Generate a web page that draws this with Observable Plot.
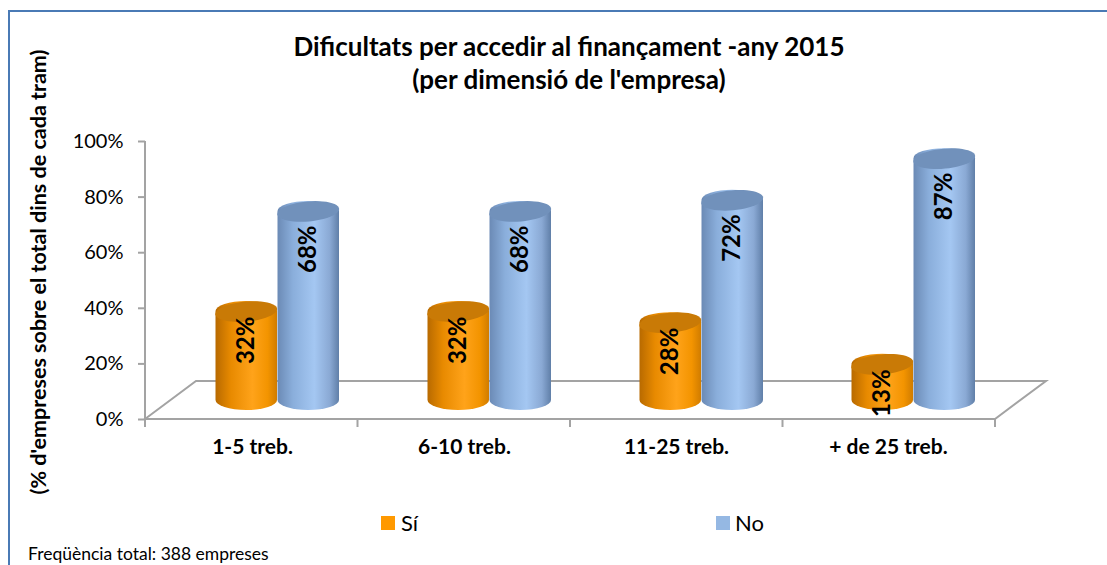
<!DOCTYPE html>
<html><head><meta charset="utf-8">
<script src="https://cdn.jsdelivr.net/npm/d3@7"></script>
<script src="https://cdn.jsdelivr.net/npm/@observablehq/plot@0.6"></script>
<style>
body{margin:0;background:#fff;font-family:Lato,"Open Sans",sans-serif;}
#wrap{position:relative;width:1107px;height:565px;overflow:hidden;background:#fff}
#border{position:absolute;left:8px;top:10px;width:1200px;height:700px;border-top:2px solid #4a7ab5;border-left:2px solid #4a7ab5}
.t{position:absolute;white-space:nowrap;color:#000}
#title{left:0;width:1138px;top:30px;text-align:center;font-weight:bold;font-size:26px;line-height:33px}
#ylab{left:38px;top:272px;transform:translate(-50%,-50%) rotate(-90deg);font-weight:bold;font-size:21.5px}
.sw{position:absolute;width:14px;height:14px}
.lg{font-size:22px;line-height:22px;top:512px}
#cap{left:28px;top:544px;font-size:17.5px;line-height:19px}
</style></head><body>
<div id="wrap">
<div id="border"></div>
<div id="chart" style="position:absolute;left:0;top:0"></div>
<div class="t" id="title">Dificultats per accedir al finançament -any 2015<br>(per dimensió de l'empresa)</div>
<div class="t" id="ylab">(% d'empreses sobre el total dins de cada tram)</div>
<div id="legend"></div>
<div class="t" id="cap">Freqüència total: 388 empreses</div>
</div>
<script>
const categories = ["1-5 treb.", "6-10 treb.", "11-25 treb.", "+ de 25 treb."];
const seriesNames = ["Sí", "No"];
const siValues = [0.32, 0.32, 0.28, 0.13];
const noValues = [0.68, 0.68, 0.72, 0.87];
const yTicks = [0, 0.2, 0.4, 0.6, 0.8, 1];
const seriesColors = ["#ff9900", "#95b8e3"];

const siRows = categories.map((c, i) => ({cat: c, series: seriesNames[0], value: siValues[i]}));
const noRows = categories.map((c, i) => ({cat: c, series: seriesNames[1], value: noValues[i]}));

const depthX = 51, depthY = -38;      // 3D floor depth (pixels)
const midX = depthX / 2, midY = depthY / 2;
const gray = "#a3a3a3";

function ellipseSymbol(a, b, tilt) {
  const c = Math.cos(tilt), s = Math.sin(tilt);
  return {draw(ctx) {
    const n = 48;
    for (let k = 0; k <= n; k++) {
      const t = 2 * Math.PI * k / n;
      const ex = a * Math.cos(t), ey = b * Math.sin(t);
      const px = ex * c - ey * s, py = ex * s + ey * c;
      if (k === 0) ctx.moveTo(px, py); else ctx.lineTo(px, py);
    }
    ctx.closePath();
  }};
}
const capSym = ellipseSymbol(31, 10, -0.09);

function floor(index, scales, values, dim) {
  const g = d3.create("svg:g");
  const x0 = dim.marginLeft, x1 = dim.width - dim.marginRight;
  const y0 = scales.y(0), yTop = scales.y(1);
  const step = (x1 - x0) / categories.length;
  g.append("path")
    .attr("d", `M${x0},${y0}L${x0 + depthX},${y0 + depthY}L${x1 + depthX},${y0 + depthY}L${x1},${y0}Z`)
    .attr("fill", "none").attr("stroke", gray).attr("stroke-width", 2);
  g.append("line").attr("x1", x0).attr("x2", x0).attr("y1", yTop).attr("y2", y0 + 7)
    .attr("stroke", gray).attr("stroke-width", 2);
  for (let k = 0; k <= categories.length; k++) {
    const xx = x0 + k * step;
    g.append("line").attr("x1", xx).attr("x2", xx).attr("y1", y0).attr("y2", y0 + 8)
      .attr("stroke", gray).attr("stroke-width", 2);
  }
  return g.node();
}

const pct = d3.format(".0%");

const chart = Plot.plot({
  width: 1107, height: 565,
  marginLeft: 145, marginRight: 112, marginTop: 141, marginBottom: 146,
  style: {fontFamily: "Lato, 'Open Sans', sans-serif", background: "transparent"},
  x: {domain: categories, padding: 0, label: null},
  y: {domain: [0, 1], label: null},
  marks: [
    floor,
    Plot.axisY({ticks: yTicks, tickSize: 7, tickPadding: 15, tickFormat: pct, fontSize: 20,
      stroke: gray, strokeWidth: 2, fill: "#000", label: null}),
    Plot.axisX({tickSize: 0, tickPadding: 20, fontSize: 21, fontWeight: "bold", fill: "#000", label: null}),
    // Sí cylinders
    Plot.barY(siRows, {x: "cat", y: "value", fill: "url(#gSi)", insetLeft: 44, insetRight: 106.5,
      insetTop: -10, insetBottom: -10, rx: 31, ry: 10, dx: midX, dy: midY}),
    Plot.dot(siRows, {x: "cat", y: "value", symbol: capSym, r: 5, fill: "#c97a06", stroke: "none",
      dx: -6.25, dy: midY}),
    Plot.text(siRows, {x: "cat", y: "value", text: d => pct(d.value), rotate: -90, textAnchor: "end",
      fontSize: 24, fontWeight: "bold", fill: "#000", dx: -6.25, dy: midY + 5}),
    // No cylinders
    Plot.barY(noRows, {x: "cat", y: "value", fill: "url(#gNo)", insetLeft: 106, insetRight: 44.5,
      insetTop: -10, insetBottom: -10, rx: 31, ry: 10, dx: midX, dy: midY}),
    Plot.dot(noRows, {x: "cat", y: "value", symbol: capSym, r: 5, fill: "#7191bb", stroke: "none",
      dx: 55.75, dy: midY}),
    Plot.text(noRows, {x: "cat", y: "value", text: d => pct(d.value), rotate: -90, textAnchor: "end",
      fontSize: 24, fontWeight: "bold", fill: "#000", dx: 55.75, dy: midY + 14})
  ]
});

// cylinder shading gradients
const defs = d3.select(chart).insert("defs", ":first-child");
function grad(id, stops) {
  const lg = defs.append("linearGradient").attr("id", id).attr("x1", "0").attr("x2", "1").attr("y1", "0").attr("y2", "0");
  stops.forEach(([o, c]) => lg.append("stop").attr("offset", o).attr("stop-color", c));
}
grad("gSi", [[0, "#b86a00"], [0.25, "#e88a00"], [0.6, "#ffa31a"], [0.85, "#f39400"], [1, "#d07c00"]]);
grad("gNo", [[0, "#6b8ab5"], [0.25, "#8aaedb"], [0.6, "#a4c7f2"], [0.85, "#8aa9d4"], [1, "#607fa8"]]);

document.getElementById("chart").appendChild(chart);

// legend
const legend = document.getElementById("legend");
const legendPos = [[381, 401], [716, 735]];
seriesNames.forEach((name, i) => {
  const sw = document.createElement("div");
  sw.className = "sw";
  sw.style.left = legendPos[i][0] + "px"; sw.style.top = "516px"; sw.style.background = seriesColors[i];
  legend.appendChild(sw);
  const tx = document.createElement("div");
  tx.className = "t lg"; tx.style.left = legendPos[i][1] + "px"; tx.textContent = name;
  legend.appendChild(tx);
});
</script>
</body></html>
